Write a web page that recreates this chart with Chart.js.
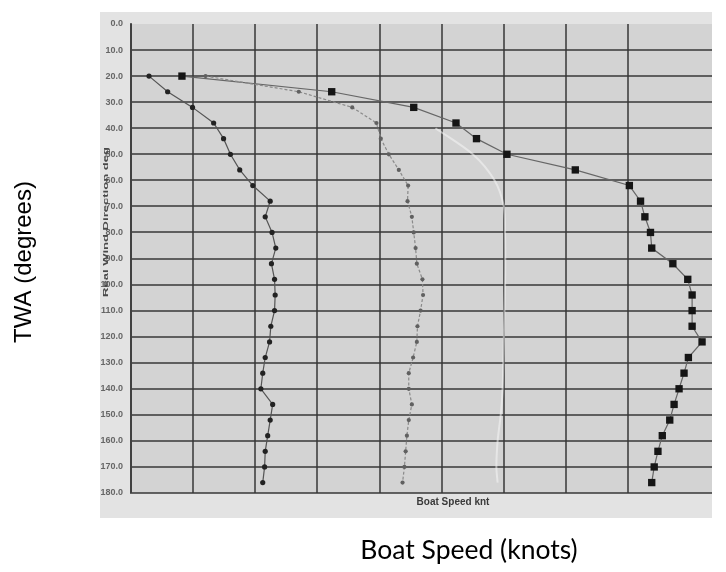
<!DOCTYPE html>
<html><head><meta charset="utf-8">
<script src="https://cdn.jsdelivr.net/npm/chart.js@4/dist/chart.umd.min.js"></script>
<style>html,body{margin:0;padding:0;background:#fff}#wrap{width:726px;height:572px;position:relative}</style>
</head><body><div id="wrap"><canvas id="c" width="726" height="572"></canvas></div>
<script>
// True wind angle (degrees) for each plotted point
const twa = [20,26,32,38,44,50,56,62,68,74,80,86,92,98,104,110,116,122,128,134,140,146,152,158,164,170,176];
// Boat speed (knots) – light wind (small dark dots)
const speedLow = [0.29,0.59,0.99,1.33,1.49,1.60,1.75,1.96,2.24,2.16,2.27,2.33,2.26,2.31,2.32,2.31,2.25,2.23,2.16,2.12,2.09,2.28,2.24,2.20,2.16,2.15,2.12];
// Boat speed (knots) – medium wind (small grey dots)
const speedMid = [1.20,2.70,3.56,3.95,4.02,4.15,4.31,4.46,4.45,4.52,4.55,4.58,4.60,4.69,4.70,4.66,4.61,4.60,4.54,4.47,4.47,4.52,4.47,4.44,4.42,4.40,4.37];
// Boat speed (knots) – strong wind (large squares)
const speedHigh = [0.82,3.23,4.55,5.23,5.56,6.05,7.15,8.02,8.20,8.27,8.36,8.38,8.72,8.96,9.03,9.03,9.03,9.19,8.97,8.90,8.82,8.74,8.67,8.55,8.48,8.42,8.38];
// Faint light trace
const twaFaint = [40,50,60,70,80,100,120,140,150,160,170,176];
const speedFaint = [4.9,5.5,5.85,6.0,6.02,6.02,6.0,5.98,5.95,5.9,5.88,5.9];

const xTitle = 'Boat Speed (knots)';
const yTitle = 'TWA (degrees)';
const innerXTitle = 'Boat Speed knt';
const innerYTitle = 'Real Wind Direction deg';

function pts(xs, ys){ return xs.map((x,i)=>({x:x, y:ys[i]})); }

const bgPlugin = {
  id:'bg',
  beforeDraw(chart){
    const ctx = chart.ctx, a = chart.chartArea;
    ctx.save();
    ctx.fillStyle = '#ffffff';
    ctx.fillRect(0,0,chart.width,chart.height);
    ctx.fillStyle = '#e3e3e3';
    ctx.fillRect(100,12,612,506);
    ctx.fillStyle = '#d3d3d3';
    ctx.fillRect(a.left,a.top,a.right-a.left,a.bottom-a.top);
    ctx.restore();
  },
  afterDraw(chart){
    const ctx = chart.ctx;
    ctx.save();
    ctx.fillStyle = '#000';
    ctx.textAlign = 'center';
    ctx.textBaseline = 'middle';
    ctx.font = '24px "Liberation Sans", Arial, sans-serif';
    ctx.translate(24,262);
    ctx.rotate(-Math.PI/2);
    ctx.fillText(yTitle,0,0);
    ctx.restore();

    ctx.save();
    ctx.fillStyle = '#000';
    ctx.textAlign = 'center';
    ctx.textBaseline = 'alphabetic';
    ctx.font = '26.5px Lato, "Open Sans", sans-serif';
    ctx.fillText(xTitle,469,559);
    ctx.restore();

    ctx.save();
    ctx.fillStyle = '#3a3a3a';
    ctx.textAlign = 'center';
    ctx.textBaseline = 'middle';
    ctx.font = 'bold 10px "Liberation Sans", Arial, sans-serif';
    ctx.fillText(innerXTitle,453,502);
    ctx.restore();

    ctx.save();
    ctx.fillStyle = '#4a4a4a';
    ctx.textAlign = 'center';
    ctx.textBaseline = 'middle';
    ctx.font = 'bold 8px "Liberation Sans", Arial, sans-serif';
    ctx.translate(106,222);
    ctx.rotate(-Math.PI/2);
    const w = ctx.measureText(innerYTitle).width;
    ctx.scale(150/w,1);
    ctx.fillText(innerYTitle,0,0);
    ctx.restore();
  }
};

const gridColor = 'rgba(55,55,55,0.75)';

new Chart(document.getElementById('c'), {
  type:'scatter',
  data:{
    datasets:[
      {label:'faint', data:pts(speedFaint,twaFaint), showLine:true, borderColor:'rgba(245,245,245,0.55)', borderWidth:2, pointRadius:0, tension:0.3},
      {label:'low', data:pts(speedLow,twa), showLine:true, borderColor:'#555', borderWidth:1.2, pointRadius:2.6, pointBackgroundColor:'#222', pointBorderWidth:0},
      {label:'mid', data:pts(speedMid,twa), showLine:true, borderColor:'#8a8a8a', borderWidth:1.2, borderDash:[3,2], pointRadius:2.1, pointBackgroundColor:'#606060', pointBorderWidth:0},
      {label:'high', data:pts(speedHigh,twa), showLine:true, borderColor:'#666', borderWidth:1.2, pointStyle:'rect', pointRadius:5.2, pointBackgroundColor:'#151515', pointBorderWidth:0}
    ]
  },
  options:{
    responsive:false,
    animation:false,
    devicePixelRatio:1,
    layout:{padding:{top:24,right:14,bottom:0,left:0}},
    plugins:{legend:{display:false},tooltip:{enabled:false}},
    scales:{
      x:{
        type:'linear', min:0, max:9.35,
        afterFit(s){ s.height = 79; },
        ticks:{display:false, stepSize:1},
        grid:{drawTicks:false, lineWidth:2, color:(c)=> (c.tick && Math.abs(c.tick.value-Math.round(c.tick.value))<1e-6) ? gridColor : 'rgba(0,0,0,0)'},
        border:{display:false}
      },
      y:{
        type:'linear', min:0, max:180, reverse:true,
        afterFit(s){ s.width = 131; },
        ticks:{stepSize:10, autoSkip:false, padding:8, color:'#666', font:{family:'"Liberation Sans", Arial, sans-serif', size:9, weight:'bold'}, callback:(v)=>Number(v).toFixed(1)},
        grid:{drawTicks:false, lineWidth:2, color:(c)=> (c.tick && c.tick.value===0) ? 'rgba(0,0,0,0)' : gridColor},
        border:{display:true, color:gridColor, width:2}
      }
    }
  },
  plugins:[bgPlugin]
});
</script>
</body></html>
